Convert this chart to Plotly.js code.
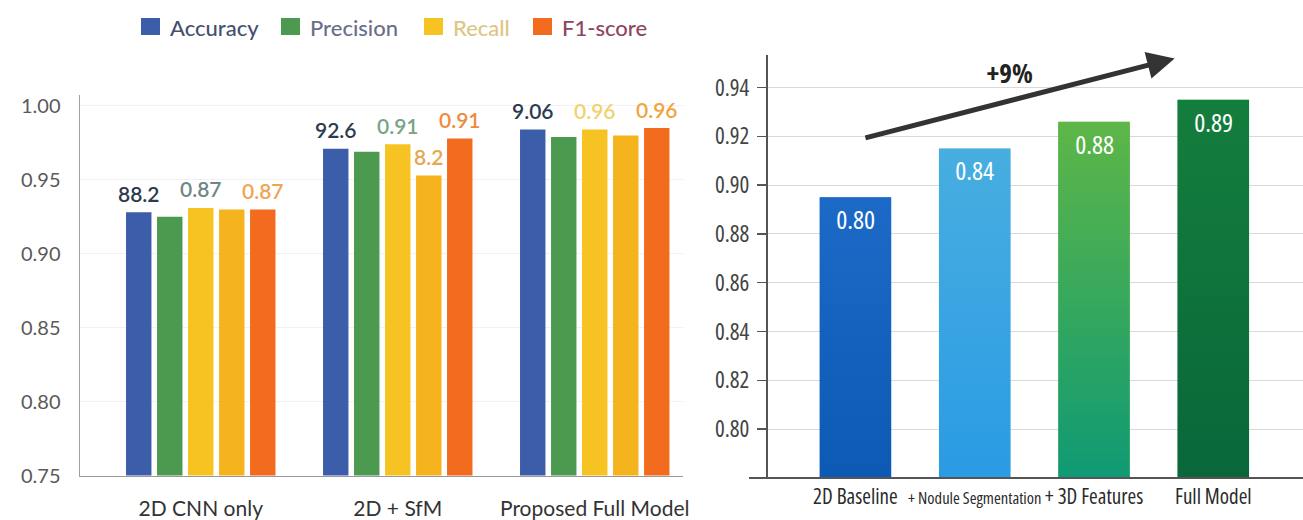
<!DOCTYPE html>
<html>
<head>
<meta charset="utf-8">
<script src="https://cdn.plot.ly/plotly-3.0.1.min.js"></script>
<style>
  html, body { margin: 0; padding: 0; background: #ffffff; }
  #chart { width: 1303px; height: 520px; }
  /* condensed face for the right-hand panel's texts */
  #chart text[style*="Open Sans"] { font-stretch: 75%; }
</style>
</head>
<body>
<div id="chart"></div>
<script>
// ---- Left panel: metrics per model variant ----
const variants = ['2D CNN only', '2D + SfM', 'Proposed Full Model'];
const accuracy  = [0.928, 0.971, 0.984];
const precision = [0.925, 0.969, 0.979];
const recall    = [0.931, 0.974, 0.984];
const recallAlt = [0.930, 0.953, 0.980];
const f1score   = [0.930, 0.978, 0.985];

const accuracyLabels  = ['88.2', '92.6', '9.06'];
const recallLabels    = ['0.87', '0.91', '0.96'];
const recallAltLabels = ['', '8.2', ''];
const f1Labels        = ['0.87', '0.91', '0.96'];

const metricNames = ['Accuracy', 'Precision', 'Recall', 'F1-score'];
const leftTicks = [0.75, 0.80, 0.85, 0.90, 0.95, 1.00];

// ---- Right panel: incremental components ----
const stages = ['2D Baseline', '+ Nodule Segmentation', '+ 3D Features', 'Full Model'];
const stageScores = [0.895, 0.915, 0.926, 0.935];
const stageLabels = ['0.80', '0.84', '0.88', '0.89'];
const gainLabel = '+9%';
const rightTicks = [0.80, 0.82, 0.84, 0.86, 0.88, 0.90, 0.92, 0.94];
const rightBase = 0.78;

// ---- Styling ----
const W = 1303, H = 520;
const px = v => v / W;            // pixel -> paper x
const py = v => (H - v) / H;      // pixel -> paper y

const LEFT_FONT = 'Lato, sans-serif';
const NARROW_FONT = '"Open Sans", sans-serif';

const seriesColors = ['#3c5daa', '#4b9a4f', '#f7c322', '#f5b31d', '#f26b1e'];
const legendTextColors = ['#44506e', '#6a6e8a', '#dcc684', '#8e4560'];
const labelColors = {
  acc:  ['#2d3a4f', '#2d3a4f', '#2d3a4f'],
  rec:  ['#6e8786', '#78a486', '#f1d26e'],
  recA: ['', '#e9a650', ''],
  f1:   ['#f0a454', '#ee8a3c', '#f1a440']
};
const stageGradients = [
  ['#1c69c7', '#0d5ab4'],
  ['#48aee0', '#2a9be4'],
  ['#5eb647', '#0f9a74'],
  ['#147e3d', '#09673a']
];
const STAGE_BAR_WIDTH = 0.6;

const BARGAP = 0.213;
const slotW = (1 - BARGAP) / 5;

const leftSeries = [
  { name: metricNames[0], y: accuracy,  color: seriesColors[0] },
  { name: metricNames[1], y: precision, color: seriesColors[1] },
  { name: metricNames[2], y: recall,    color: seriesColors[2] },
  { name: metricNames[2] + ' (alt)', y: recallAlt, color: seriesColors[3] },
  { name: metricNames[3], y: f1score,   color: seriesColors[4] }
];

const traces = leftSeries.map(s => ({
  type: 'bar',
  x: variants,
  y: s.y,
  name: s.name,
  marker: { color: s.color },
  xaxis: 'x', yaxis: 'y',
  showlegend: false,
  hoverinfo: 'skip'
}));

traces.push({
  type: 'bar',
  x: stages,
  y: stageScores,
  name: 'stages',
  width: stages.map(() => STAGE_BAR_WIDTH),
  marker: { color: stageGradients.map(g => g[0]) },
  xaxis: 'x2', yaxis: 'y2',
  showlegend: false,
  hoverinfo: 'skip'
});

// vertical colour gradient fill for each stage bar, laid over the bar
function gradientSource(top, bottom) {
  const svg = "<svg xmlns='http://www.w3.org/2000/svg' width='10' height='100' viewBox='0 0 10 100' preserveAspectRatio='none'>" +
    "<defs><linearGradient id='g' x1='0' y1='0' x2='0' y2='1'>" +
    "<stop offset='0' stop-color='" + top + "'/><stop offset='1' stop-color='" + bottom + "'/>" +
    "</linearGradient></defs><rect x='0' y='0' width='10' height='100' fill='url(#g)'/></svg>";
  return 'data:image/svg+xml;charset=utf-8,' + encodeURIComponent(svg);
}
const images = stageScores.map((v, i) => ({
  source: gradientSource(stageGradients[i][0], stageGradients[i][1]),
  xref: 'x2', yref: 'y2',
  x: i - STAGE_BAR_WIDTH / 2, y: v,
  sizex: STAGE_BAR_WIDTH, sizey: v - rightBase,
  xanchor: 'left', yanchor: 'top',
  sizing: 'stretch', layer: 'above'
}));

// value labels above the left bars
const annotations = [];
const leftLabelSets = [
  { slot: 0, texts: accuracyLabels,  colors: labelColors.acc,  values: accuracy },
  { slot: 2, texts: recallLabels,    colors: labelColors.rec,  values: recall },
  { slot: 3, texts: recallAltLabels, colors: labelColors.recA, values: recallAlt },
  { slot: 4, texts: f1Labels,        colors: labelColors.f1,   values: f1score }
];
leftLabelSets.forEach(set => {
  set.texts.forEach((t, g) => {
    if (!t) return;
    annotations.push({
      xref: 'x', yref: 'y',
      x: g + (set.slot - 2) * slotW,
      y: set.values[g],
      text: t,
      showarrow: false,
      xanchor: 'center', yanchor: 'middle',
      yshift: 19,
      font: { family: LEFT_FONT, size: 21, color: set.colors[g], weight: 600 }
    });
  });
});

// legend drawn as swatches + labels
const legendX = [141, 281, 424, 533];
metricNames.forEach((n, i) => {
  annotations.push({
    xref: 'paper', yref: 'paper',
    x: px(legendX[i] + 27), y: py(27),
    text: n, showarrow: false,
    xanchor: 'left', yanchor: 'middle',
    font: { family: LEFT_FONT, size: 22, color: legendTextColors[i], weight: 500 }
  });
});
const legendSwatchColors = [seriesColors[0], seriesColors[1], seriesColors[2], seriesColors[4]];
const shapes = legendX.map((x, i) => ({
  type: 'rect', xref: 'paper', yref: 'paper',
  x0: px(x), x1: px(x + 19), y0: py(35), y1: py(18),
  fillcolor: legendSwatchColors[i], line: { width: 0 }
}));

// right panel value labels inside bars
stages.forEach((s, i) => {
  annotations.push({
    xref: 'x2', yref: 'y2',
    x: i, y: stageScores[i],
    text: stageLabels[i], showarrow: false,
    xanchor: 'center', yanchor: 'middle',
    yshift: -22,
    font: { family: NARROW_FONT, size: 26, color: '#ffffff', weight: 500 }
  });
});

// trend arrow and gain label
annotations.push({
  xref: 'x2', yref: 'y2', axref: 'x2', ayref: 'y2',
  x: 2.676, y: 0.9519, ax: 0.071, ay: 0.9192,
  text: '', showarrow: true,
  arrowhead: 2, arrowsize: 1.1, arrowwidth: 5, arrowcolor: '#333333',
  standoff: 0, startstandoff: 0
});
annotations.push({
  xref: 'x2', yref: 'y2',
  x: 1.295, y: 0.9461,
  text: '<b>' + gainLabel + '</b>', showarrow: false,
  xanchor: 'center', yanchor: 'middle',
  font: { family: NARROW_FONT, size: 27, color: '#222222' }
});

// baseline of right panel, running slightly past the y axis
shapes.push({
  type: 'line', xref: 'paper', yref: 'y2 domain',
  x0: px(749), x1: 1, y0: 0, y1: 0,
  line: { color: '#555555', width: 2 }
});

const layout = {
  width: W, height: H,
  margin: { l: 0, r: 0, t: 0, b: 0 },
  paper_bgcolor: '#ffffff',
  plot_bgcolor: 'rgba(0,0,0,0)',
  barmode: 'group',
  bargap: BARGAP,
  bargroupgap: 0.18,
  showlegend: false,
  xaxis: {
    domain: [px(80), px(683)],
    type: 'category',
    range: [-0.613, 2.448],
    showline: true, linecolor: '#9a9a9a', linewidth: 1.5,
    ticks: '', showgrid: false, zeroline: false,
    ticklabelstandoff: 14,
    tickfont: { family: LEFT_FONT, size: 21, color: '#333333' },
    fixedrange: true
  },
  yaxis: {
    domain: [py(475.5), py(95)],
    range: [0.75, 1.0074],
    tickmode: 'array', tickvals: leftTicks, tickformat: '.2f',
    showline: true, linecolor: '#a0a0a0', linewidth: 1.5,
    ticks: '', showgrid: true, gridcolor: '#f1f1f1', gridwidth: 1,
    zeroline: false,
    ticklabelstandoff: 14,
    tickfont: { family: LEFT_FONT, size: 20, color: '#5a5a5a' },
    fixedrange: true
  },
  xaxis2: {
    domain: [px(768), 1],
    anchor: 'y2',
    type: 'category',
    range: [-0.733, 3.752],
    tickmode: 'array', tickvals: stages,
    ticktext: stages.map(s => s.indexOf('Nodule') >= 0
      ? '<span style="font-size:16.5px">' + s + '</span>' : s),
    tickangle: 0,
    showline: false, ticks: '', showgrid: false, zeroline: false,
    ticklabelstandoff: 4,
    tickfont: { family: NARROW_FONT, size: 21, color: '#2a2a2a' },
    fixedrange: true
  },
  yaxis2: {
    domain: [py(478), py(55)],
    anchor: 'x2',
    range: [rightBase, 0.9533],
    tickmode: 'array', tickvals: rightTicks, tickformat: '.2f',
    showline: true, linecolor: '#555555', linewidth: 2,
    ticks: 'outside', ticklen: 9, tickwidth: 1.5, tickcolor: '#555555',
    showgrid: true, gridcolor: '#d9d9d9', gridwidth: 1,
    zeroline: false,
    ticklabelstandoff: 3,
    tickfont: { family: NARROW_FONT, size: 23, color: '#444444' },
    fixedrange: true
  },
  images: images,
  annotations: annotations,
  shapes: shapes
};

Plotly.newPlot('chart', traces, layout, { staticPlot: true, displayModeBar: false });
</script>
</body>
</html>
